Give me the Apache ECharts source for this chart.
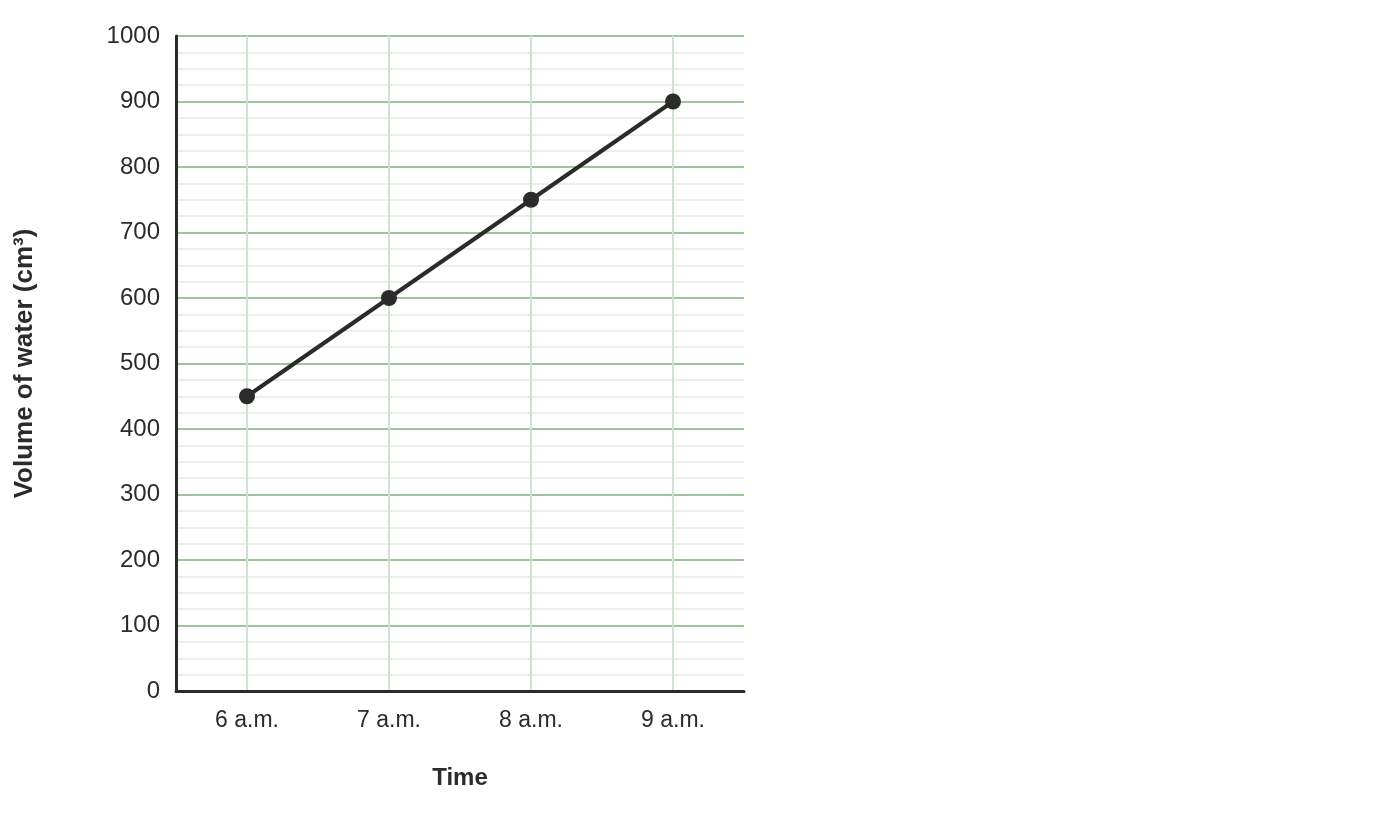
<!DOCTYPE html>
<html><head><meta charset="utf-8">
<script src="https://cdn.jsdelivr.net/npm/echarts@6/dist/echarts.min.js"></script>
<style>html,body{margin:0;padding:0;background:#fff}#c{width:1400px;height:840px}</style>
</head><body><div id="c"></div>
<script>
const categories = ['6 a.m.', '7 a.m.', '8 a.m.', '9 a.m.'];
const volumes = [450, 600, 750, 900];
const yTicks = { min: 0, max: 1000, interval: 100 };
const xName = 'Time';
const yName = 'Volume of water (cm³)';

const font = '"Liberation Sans", Arial, sans-serif';
const chart = echarts.init(document.getElementById('c'));
chart.setOption({
  animation: false,
  grid: { left: 176, right: 656, top: 36, bottom: 149 },
  xAxis: {
    type: 'category', data: categories, boundaryGap: true,
    name: xName, nameLocation: 'middle', nameGap: 75,
    nameTextStyle: { fontFamily: font, fontSize: 24, fontWeight: 'bold', color: '#2b2b2b' },
    axisLine: { show: true, lineStyle: { color: '#2b2b2b', width: 3 } },
    axisTick: { show: false, alignWithLabel: true },
    axisLabel: { fontFamily: font, fontSize: 23, color: '#2b2b2b', margin: 18 },
    splitLine: { show: true, alignWithLabel: true, lineStyle: { color: '#cfe3cf', width: 2 } }
  },
  yAxis: {
    type: 'value', min: yTicks.min, max: yTicks.max, interval: yTicks.interval,
    name: yName, nameLocation: 'middle', nameGap: 138, nameRotate: 90,
    nameTextStyle: { fontFamily: font, fontSize: 26, fontWeight: 'bold', color: '#2b2b2b' },
    axisLine: { show: true, lineStyle: { color: '#2b2b2b', width: 3 } },
    axisTick: { show: false },
    axisLabel: { fontFamily: font, fontSize: 24, color: '#2b2b2b', margin: 16, formatter: v => String(v) },
    splitLine: { show: true, lineStyle: { color: '#9dc49a', width: 2 } },
    minorTick: { show: false, splitNumber: 4 },
    minorSplitLine: { show: true, lineStyle: { color: '#e9f0e9', width: 2 } }
  },
  series: [{
    type: 'line', data: volumes,
    lineStyle: { color: '#2b2b2b', width: 4 },
    itemStyle: { color: '#2b2b2b' },
    symbol: 'circle', symbolSize: 16, z: 5
  }]
});
</script></body></html>
